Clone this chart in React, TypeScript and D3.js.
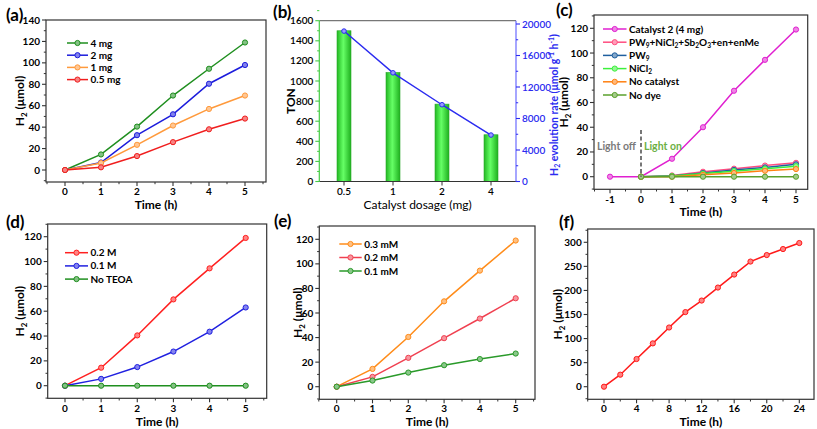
import React from 'react';
import * as d3 from 'd3';

const FONT = 'Lato, "Open Sans", sans-serif';

// ---- (a) catalyst amount
const hoursA = [0, 1, 2, 3, 4, 5];
const a4mg = [0, 14.5, 40.5, 69.5, 94.5, 119];
const a2mg = [0, 7, 32.5, 52, 80.5, 98];
const a1mg = [0, 6.5, 23.5, 41.5, 57, 69.5];
const a05mg = [0, 2.5, 13, 26, 38, 48];

// ---- (b) TON / rate
const dosages = ['0.5', '1', '2', '4'];
const tonValues = [1500, 1085, 770, 465];
const rateValues = [19100, 13800, 9750, 5900];
const tonTicks = d3.range(0, 1601, 200);
const rateTicks = d3.range(0, 20001, 4000);

// ---- (c) controls
const hoursC = [-1, 0, 1, 2, 3, 4, 5];
const hoursC0 = [0, 1, 2, 3, 4, 5];
const cCat2 = [0, 0, 14.5, 40, 69.5, 94.5, 119];
const cMix = [0, 1, 4, 6.5, 9, 11.2];
const cPW9 = [0, 0.5, 3, 5.5, 7.5, 10];
const cNiCl2 = [0, 0.5, 2.5, 4.5, 6.5, 8.5];
const cNoCat = [0, 0, 1.5, 3, 4.8, 6.2];
const cNoDye = [0, 0, 0, 0, 0, 0];

// ---- (d) TEOA
const d02M = [0, 14.5, 40.5, 69.5, 94.5, 119];
const d01M = [0, 5.5, 15, 27.5, 43.5, 63];
const dNoTEOA = [0, 0, 0, 0, 0, 0];

// ---- (e) dye
const e03 = [0, 14.5, 40.5, 69.5, 94.5, 119];
const e02 = [0, 8, 23.5, 39.5, 55.5, 72];
const e01 = [0, 5, 11.5, 17.5, 22.5, 27];

// ---- (f) long run
const hoursF = [0, 2, 4, 6, 8, 10, 12, 14, 16, 18, 20, 22, 24];
const fValues = [0, 25, 57.5, 90, 123, 155, 179, 206, 233, 260, 273.5, 286, 298.5];

// text with _{sub} and ^{sup}
function Rich({ s, size }: { s: string; size: number }) {
  const out: any[] = [];
  const re = /([_^])\{([^}]*)\}/g;
  let last = 0;
  let m: any;
  let k = 0;
  while ((m = re.exec(s))) {
    if (m.index > last) out.push(<tspan key={k++}>{s.slice(last, m.index)}</tspan>);
    const sh = m[1] === '_' ? -size * 0.22 : size * 0.38;
    out.push(
      <tspan key={k++} baselineShift={sh} fontSize={size * 0.66}>
        {m[2]}
      </tspan>
    );
    last = re.lastIndex;
  }
  if (last < s.length) out.push(<tspan key={k++}>{s.slice(last)}</tspan>);
  return <>{out}</>;
}

function lighten(c: string) {
  return d3.interpolateRgb(c, '#ffffff')(0.45);
}

interface Series {
  name: string;
  color: string;
  xs: number[];
  ys: number[];
}

interface PanelProps {
  tag: string;
  tagPos: [number, number];
  frame: { l: number; r: number; t: number; b: number };
  xMap: [number, number, number, number];
  yMap: [number, number, number, number];
  xTicks: number[];
  xMinor: number[];
  yTicks: number[];
  yMinor: number[];
  series: Series[];
  legend: { x1: number; x2: number; y0: number; dy: number; order?: number[] };
  yTitleX: number;
  xTitleY: number;
  xTickY: number;
  extra?: (x: any, y: any) => any;
}

function LinePanel(p: PanelProps) {
  const { frame } = p;
  const x = d3.scaleLinear().domain([p.xMap[0], p.xMap[1]]).range([p.xMap[2], p.xMap[3]]);
  const y = d3.scaleLinear().domain([p.yMap[0], p.yMap[1]]).range([p.yMap[2], p.yMap[3]]);
  const line = d3
    .line<[number, number]>()
    .x((d) => x(d[0]))
    .y((d) => y(d[1]));
  const inX = (v: number) => x(v) >= frame.l - 0.5 && x(v) <= frame.r + 0.5;
  const inY = (v: number) => y(v) >= frame.t - 0.5 && y(v) <= frame.b + 0.5;
  const order = p.legend.order || p.series.map((_, i) => i);
  return (
    <g fontFamily={FONT} fontWeight="bold">
      <text x={p.tagPos[0]} y={p.tagPos[1]} fontSize={17}>
        {p.tag}
      </text>
      {/* series */}
      {p.series.map((s) => (
        <g key={s.name}>
          <path
            d={line(s.xs.map((v, i) => [v, s.ys[i]]) as any) || ''}
            fill="none"
            stroke={s.color}
            strokeWidth={1.5}
          />
          {s.xs.map((v, i) => (
            <circle
              key={i}
              cx={x(v)}
              cy={y(s.ys[i])}
              r={2.6}
              fill={lighten(s.color)}
              stroke={s.color}
              strokeWidth={1}
            />
          ))}
        </g>
      ))}
      {p.extra && p.extra(x, y)}
      {/* frame */}
      <rect
        x={frame.l}
        y={frame.t}
        width={frame.r - frame.l}
        height={frame.b - frame.t}
        fill="none"
        stroke="#333"
        strokeWidth={1.2}
      />
      {p.xTicks.filter(inX).map((v) => (
        <g key={'xt' + v}>
          <line x1={x(v)} x2={x(v)} y1={frame.b} y2={frame.b + 4} stroke="#333" strokeWidth={1.1} />
          <text x={x(v)} y={p.xTickY} fontSize={10} textAnchor="middle">
            {v}
          </text>
        </g>
      ))}
      {p.xMinor.filter(inX).map((v) => (
        <line key={'xm' + v} x1={x(v)} x2={x(v)} y1={frame.b} y2={frame.b + 2.2} stroke="#333" strokeWidth={1} />
      ))}
      {p.yTicks.filter(inY).map((v) => (
        <g key={'yt' + v}>
          <line x1={frame.l - 4} x2={frame.l} y1={y(v)} y2={y(v)} stroke="#333" strokeWidth={1.1} />
          <text x={frame.l - 6} y={y(v)} dy="0.35em" fontSize={10} textAnchor="end">
            {v}
          </text>
        </g>
      ))}
      {p.yMinor.filter(inY).map((v) => (
        <line key={'ym' + v} x1={frame.l - 2.2} x2={frame.l} y1={y(v)} y2={y(v)} stroke="#333" strokeWidth={1} />
      ))}
      <text x={(frame.l + frame.r) / 2} y={p.xTitleY} fontSize={12} textAnchor="middle">
        Time (h)
      </text>
      <text
        transform={`translate(${p.yTitleX},${(frame.t + frame.b) / 2}) rotate(-90)`}
        fontSize={12}
        textAnchor="middle"
        dy="0.35em"
      >
        <Rich s="H_{2} (μmol)" size={12} />
      </text>
      {/* legend */}
      {order.map((si, i) => {
        const s = p.series[si];
        const ly = p.legend.y0 + i * p.legend.dy;
        return (
          <g key={'lg' + s.name}>
            <line x1={p.legend.x1} x2={p.legend.x2} y1={ly} y2={ly} stroke={s.color} strokeWidth={1.5} />
            <circle
              cx={(p.legend.x1 + p.legend.x2) / 2}
              cy={ly}
              r={2.6}
              fill={lighten(s.color)}
              stroke={s.color}
            />
            <text x={p.legend.x2 + 2.5} y={ly} dy="0.35em" fontSize={10}>
              <Rich s={s.name} size={10} />
            </text>
          </g>
        );
      })}
    </g>
  );
}

function BarPanel() {
  const frame = { l: 319.3, r: 516, t: 20.7, b: 181.5 };
  const x = d3.scalePoint<string>().domain(dosages).range([344, 491]);
  const yL = d3.scaleLinear().domain([0, 1600]).range([frame.b, frame.t]);
  const yR = d3.scaleLinear().domain([0, 20000]).range([frame.b, 24]);
  const bw = 14;
  const line = d3
    .line<number>()
    .x((_, i) => x(dosages[i]) as number)
    .y((d) => yR(d));
  const blue = '#2b2bf0';
  const green = '#44cc44';
  return (
    <g fontFamily={FONT}>
      <defs>
        <linearGradient id="barGrad" x1="0" x2="1" y1="0" y2="0">
          <stop offset="0" stopColor="#22b822" />
          <stop offset="0.45" stopColor="#66ff66" />
          <stop offset="1" stopColor="#1fb01f" />
        </linearGradient>
      </defs>
      <text x={273} y={18} fontSize={17} fontWeight="bold">
        (b)
      </text>
      {tonValues.map((v, i) => (
        <rect
          key={i}
          x={(x(dosages[i]) as number) - bw / 2}
          y={yL(v)}
          width={bw}
          height={frame.b - yL(v)}
          fill="url(#barGrad)"
          stroke="#2ea82e"
          strokeWidth={0.6}
        />
      ))}
      <path d={line(rateValues) || ''} fill="none" stroke={blue} strokeWidth={1.4} />
      {rateValues.map((v, i) => (
        <circle key={i} cx={x(dosages[i]) as number} cy={yR(v)} r={2.3} fill="#9a9aff" stroke={blue} strokeWidth={1} />
      ))}
      {/* frame */}
      <line x1={frame.l} x2={frame.r} y1={frame.t} y2={frame.t} stroke="#777" strokeWidth={1.2} />
      <line x1={frame.l} x2={frame.r} y1={frame.b} y2={frame.b} stroke="#333" strokeWidth={1.2} />
      <line x1={frame.l} x2={frame.l} y1={frame.t} y2={frame.b} stroke={green} strokeWidth={1.2} />
      <line x1={frame.r} x2={frame.r} y1={frame.t} y2={frame.b} stroke="#6a6aff" strokeWidth={1.2} />
      {dosages.map((d) => (
        <g key={d}>
          <line x1={x(d) as number} x2={x(d) as number} y1={frame.b} y2={frame.b + 4} stroke="#333" />
          <text x={x(d) as number} y={frame.b + 13.5} fontSize={10} textAnchor="middle" fontWeight={600}>
            {d}
          </text>
        </g>
      ))}
      {tonTicks.map((v) => (
        <g key={'l' + v}>
          <line x1={frame.l - 4} x2={frame.l} y1={yL(v)} y2={yL(v)} stroke={green} strokeWidth={1.1} />
          <line x1={frame.l - 2.2} x2={frame.l} y1={yL(v + 100)} y2={yL(v + 100)} stroke={green} />
          <text x={frame.l - 6} y={yL(v)} dy="0.35em" fontSize={10} textAnchor="end" fontWeight={600}>
            {v}
          </text>
        </g>
      ))}
      {rateTicks.map((v) => (
        <g key={'r' + v}>
          <line x1={frame.r} x2={frame.r + 4} y1={yR(v)} y2={yR(v)} stroke={blue} strokeWidth={1.1} />
          {v + 2000 <= 20000 && (
            <line x1={frame.r} x2={frame.r + 2.2} y1={yR(v + 2000)} y2={yR(v + 2000)} stroke={blue} />
          )}
          <text x={frame.r + 6} y={yR(v)} dy="0.35em" fontSize={10} fill={blue} fontWeight={600}>
            {v}
          </text>
        </g>
      ))}
      <text x={(frame.l + frame.r) / 2} y={208.5} fontSize={12} textAnchor="middle">
        Catalyst dosage (mg)
      </text>
      <text
        transform={`translate(291,${(frame.t + frame.b) / 2}) rotate(-90)`}
        fontSize={12}
        fontWeight="bold"
        textAnchor="middle"
        dy="0.35em"
      >
        TON
      </text>
      <text
        transform={`translate(554,105) rotate(-90)`}
        fontSize={10.5}
        fontWeight="bold"
        textAnchor="middle"
        dy="0.35em"
        fill={blue}
      >
        <Rich s="H_{2} evolution rate (μmol g^{-1} h^{-1})" size={10.5} />
      </text>
    </g>
  );
}

const range = (a: number, b: number, s: number) => d3.range(a, b + s / 2, s);

export default function App() {
  return (
    <svg width={817} height={429} style={{ position: 'absolute', left: 0, top: 0, background: '#fff' }}>
      <rect width={817} height={429} fill="#fff" />
      <LinePanel
        tag="(a)"
        tagPos={[6, 21]}
        frame={{ l: 46, r: 266, t: 20, b: 182 }}
        xMap={[0, 5, 65, 245]}
        yMap={[0, 140, 170, 20]}
        xTicks={range(0, 5, 1)}
        xMinor={range(-0.5, 5.5, 1)}
        yTicks={range(0, 140, 20)}
        yMinor={range(-10, 130, 20)}
        series={[
          { name: '4 mg', color: '#1f8f1f', xs: hoursA, ys: a4mg },
          { name: '2 mg', color: '#1c1cdc', xs: hoursA, ys: a2mg },
          { name: '1 mg', color: '#ff9a3c', xs: hoursA, ys: a1mg },
          { name: '0.5 mg', color: '#f01e1e', xs: hoursA, ys: a05mg },
        ]}
        legend={{ x1: 67, x2: 88, y0: 43, dy: 12.2 }}
        yTitleX={20}
        xTitleY={209}
        xTickY={195}
      />
      <BarPanel />
      <LinePanel
        tag="(c)"
        tagPos={[556, 16]}
        frame={{ l: 594, r: 807.7, t: 15, b: 189.3 }}
        xMap={[-1, 5, 610, 796]}
        yMap={[0, 120, 176.7, 28.3]}
        xTicks={range(-1, 5, 1)}
        xMinor={range(-1.5, 5.5, 1)}
        yTicks={range(0, 120, 20)}
        yMinor={range(-10, 130, 20)}
        series={[
          { name: 'Catalyst 2 (4 mg)', color: '#e020d0', xs: hoursC, ys: cCat2 },
          { name: 'PW_{9}+NiCl_{2}+Sb_{2}O_{3}+en+enMe', color: '#ff4d80', xs: hoursC0, ys: cMix },
          { name: 'PW_{9}', color: '#1f5f9f', xs: hoursC0, ys: cPW9 },
          { name: 'NiCl_{2}', color: '#3cf03c', xs: hoursC0, ys: cNiCl2 },
          { name: 'No catalyst', color: '#ff8010', xs: hoursC0, ys: cNoCat },
          { name: 'No dye', color: '#5aa02c', xs: hoursC0, ys: cNoDye },
        ]}
        legend={{ x1: 603, x2: 626.5, y0: 29, dy: 13.2 }}
        yTitleX={564}
        xTitleY={216}
        xTickY={202.5}
        extra={(x: any, y: any) => (
          <g>
            <line x1={x(0)} x2={x(0)} y1={130} y2={y(0)} stroke="#555" strokeWidth={1.6} strokeDasharray="4,2.5" />
            <text x={x(0) - 5} y={150} fontSize={10.5} textAnchor="end" fill="#7a7a7a">
              Light off
            </text>
            <text x={x(0) + 3} y={150} fontSize={10.5} fill="#6cb044">
              Light on
            </text>
          </g>
        )}
      />
      <LinePanel
        tag="(d)"
        tagPos={[6, 228]}
        frame={{ l: 47.7, r: 266.7, t: 224, b: 398.3 }}
        xMap={[0, 5, 65, 245.7]}
        yMap={[0, 120, 385.7, 236.7]}
        xTicks={range(0, 5, 1)}
        xMinor={range(-0.5, 5.5, 1)}
        yTicks={range(0, 120, 20)}
        yMinor={range(-10, 130, 20)}
        series={[
          { name: '0.2 M', color: '#ff2020', xs: hoursA, ys: d02M },
          { name: '0.1 M', color: '#2020e0', xs: hoursA, ys: d01M },
          { name: 'No TEOA', color: '#1f8f1f', xs: hoursA, ys: dNoTEOA },
        ]}
        legend={{ x1: 65, x2: 88, y0: 252.7, dy: 13.2 }}
        yTitleX={20}
        xTitleY={426}
        xTickY={412}
      />
      <LinePanel
        tag="(e)"
        tagPos={[274, 227]}
        frame={{ l: 319.3, r: 535, t: 226, b: 399.3 }}
        xMap={[0, 5, 336.7, 515.7]}
        yMap={[0, 120, 386.7, 239.3]}
        xTicks={range(0, 5, 1)}
        xMinor={range(-0.5, 5.5, 1)}
        yTicks={range(0, 120, 20)}
        yMinor={range(-10, 130, 20)}
        series={[
          { name: '0.3 mM', color: '#ff8c1a', xs: hoursA, ys: e03 },
          { name: '0.2 mM', color: '#f04050', xs: hoursA, ys: e02 },
          { name: '0.1 mM', color: '#2a9a2a', xs: hoursA, ys: e01 },
        ]}
        legend={{ x1: 339.3, x2: 361.7, y0: 244, dy: 13.5 }}
        yTitleX={298}
        xTitleY={426}
        xTickY={412}
      />
      <LinePanel
        tag="(f)"
        tagPos={[559, 228]}
        frame={{ l: 587.7, r: 814, t: 229, b: 399.3 }}
        xMap={[0, 24, 604, 799.3]}
        yMap={[0, 300, 386.7, 242.3]}
        xTicks={range(0, 24, 4)}
        xMinor={range(-2, 26, 4)}
        yTicks={range(0, 300, 50)}
        yMinor={range(-25, 325, 50)}
        series={[{ name: '', color: '#ff1a1a', xs: hoursF, ys: fValues }]}
        legend={{ x1: 0, x2: 0, y0: 0, dy: 0, order: [] }}
        yTitleX={558}
        xTitleY={426}
        xTickY={412}
      />
    </svg>
  );
}
